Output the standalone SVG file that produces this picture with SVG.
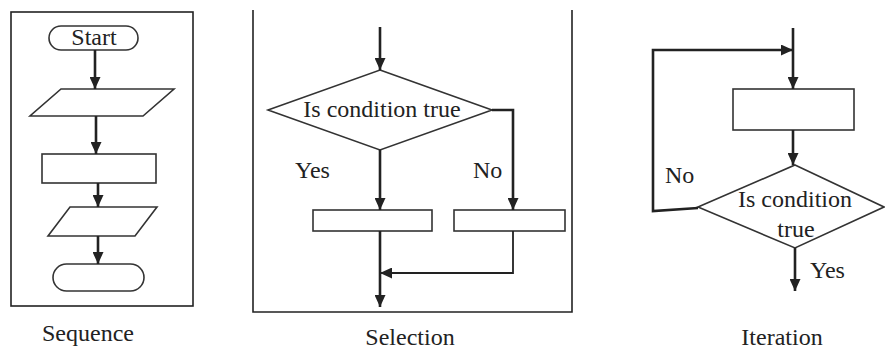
<svg xmlns="http://www.w3.org/2000/svg" width="885" height="351" viewBox="0 0 885 351" font-family="'Liberation Serif', 'DejaVu Serif', 'Times New Roman', serif">
<style>
.shape{fill:#fff;stroke:#333;stroke-width:1.6}
.frame{fill:none;stroke:#222;stroke-width:1.6}
.conn{fill:none;stroke:#222;stroke-width:2.6}
.thin{fill:none;stroke:#222;stroke-width:1.8}
.t{font-family:'Liberation Serif','DejaVu Serif',serif;font-size:24px;fill:#222}
.c{text-anchor:middle}
</style>
<defs>
<marker id="ah" markerUnits="userSpaceOnUse" markerWidth="12" markerHeight="11" viewBox="0 0 12 11" refX="12" refY="5.5" orient="auto">
<path d="M0,0 L12,5.5 L0,11 z" fill="#222"/>
</marker>
</defs>
<rect width="885" height="351" fill="#fff"/>

<!-- Sequence -->
<g id="sequence-frame"><rect class="frame" x="11" y="12" width="182" height="294"/></g>
<g id="seq-start"><rect class="shape" x="49" y="26" width="89" height="24" rx="12"/><text class="t c" x="94" y="45">Start</text></g>
<g id="seq-input1"><polygon class="shape" points="61,89 174,89 143,116 30,116"/></g>
<g id="seq-process"><rect class="shape" x="42" y="154" width="114" height="29"/></g>
<g id="seq-input2"><polygon class="shape" points="70,207 157,207 135,236 48,236"/></g>
<g id="seq-end"><rect class="shape" x="53" y="264" width="91" height="27" rx="13.5"/></g>
<text class="t c" x="88" y="341">Sequence</text>

<!-- Selection -->
<g id="selection-frame"><path class="frame" d="M253,10 V312 H572 V10"/></g>
<g id="sel-decision"><polygon class="shape" points="380,70 492,110 380,150 268,110"/><text class="t c" x="382" y="117">Is condition true</text></g>
<g id="sel-yes-box"><rect class="shape" x="313" y="210" width="119" height="21"/></g>
<g id="sel-no-box"><rect class="shape" x="454" y="210" width="111" height="21"/></g>
<text class="t" x="295" y="178">Yes</text>
<text class="t" x="473" y="178">No</text>
<text class="t c" x="410" y="345">Selection</text>

<!-- Iteration -->
<g id="it-process"><rect class="shape" x="733" y="89" width="121" height="41"/></g>
<g id="it-decision"><polygon class="shape" points="795,165 884,207 795,248 698,207"/><text class="t c" x="795" y="207">Is condition</text><text class="t c" x="796" y="237">true</text></g>
<text class="t" x="810" y="278">Yes</text>
<text class="t" x="665" y="183">No</text>
<text class="t c" x="782" y="345">Iteration</text>

<g id="connectors">
<path class="conn" d="M95,50 V89" marker-end="url(#ah)"/>
<path class="conn" d="M96,116 V154" marker-end="url(#ah)"/>
<path class="conn" d="M98,183 V207" marker-end="url(#ah)"/>
<path class="conn" d="M98,236 V264" marker-end="url(#ah)"/>

<path class="conn" d="M380,27 V70" marker-end="url(#ah)"/>
<path class="conn" d="M380,150 V210" marker-end="url(#ah)"/>
<path class="conn" d="M492,110 H513 V210" marker-end="url(#ah)"/>
<path class="thin" d="M513,231 V273 H380" marker-end="url(#ah)"/>
<path class="conn" d="M380,231 V307" marker-end="url(#ah)"/>

<path class="conn" d="M793,28 V89" marker-end="url(#ah)"/>
<path class="conn" d="M698,208 L653,211 V50 H793" marker-end="url(#ah)"/>
<path class="conn" d="M793,130 V165" marker-end="url(#ah)"/>
<path class="conn" d="M795,248 V291" marker-end="url(#ah)"/>
</g>
</svg>
